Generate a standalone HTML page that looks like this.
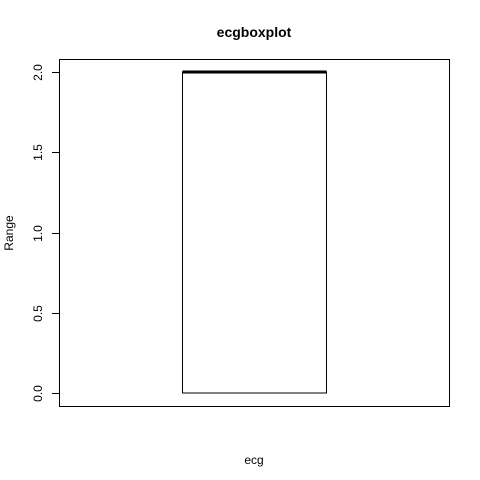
<!DOCTYPE html>
<html><head><meta charset="utf-8"><style>body{margin:0;background:#fff}svg{display:block;font-family:"Liberation Sans",Arial,sans-serif}</style></head>
<body>
<svg id="chart" width="480" height="480">
<text x="254" y="37" text-anchor="middle" font-size="14" font-weight="bold">ecgboxplot</text>
<rect x="59.5" y="59.5" width="390" height="347" fill="none" stroke="#000" stroke-width="1"/>
<text x="254" y="464" text-anchor="middle" font-size="12">ecg</text>
<text transform="translate(13,233) rotate(-90)" text-anchor="middle" font-size="12">Range</text>
<g id="yaxis"></g>
<g id="box"></g>
</svg>
<script>
const yTicks=[0,0.5,1,1.5,2];
const yTickLabels=["0.0","0.5","1.0","1.5","2.0"];
const stats=[0,0,2,2,2]; // min, q1, median, q3, max
const y=v=>393-v*(321/2);
const NS="http://www.w3.org/2000/svg";
function mk(t,a,p){const e=document.createElementNS(NS,t);for(const k in a)e.setAttribute(k,a[k]);p.appendChild(e);return e;}
const ya=document.getElementById('yaxis');
const al=mk('line',{x1:59.5,x2:59.5,y1:y(0),y2:y(2),stroke:'#000'},ya);


yTicks.forEach((v,i)=>{
 const yy=Math.round(y(v))+0.5;
 const t=mk('line',{x1:52,x2:59.5,y1:yy,y2:yy,stroke:'#000'},ya);
 
 
 const l=mk('text',{transform:`translate(42,${yy}) rotate(-90)`,'text-anchor':'middle','font-size':12},ya);
 l.textContent=yTickLabels[i];
 
 
});
const b=document.getElementById('box');
const r=mk('rect',{x:182.5,y:y(stats[3]),width:144,height:y(stats[1])-y(stats[3]),fill:'none',stroke:'#000'},b);


const m=mk('line',{x1:182.5,x2:326.5,y1:y(stats[2]),y2:y(stats[2]),stroke:'#000','stroke-width':3},b);


const c1=mk('line',{x1:218,x2:290,y1:y(stats[0]),y2:y(stats[0]),stroke:'#000'},b);


const c2=mk('line',{x1:218,x2:290,y1:y(stats[4]),y2:y(stats[4]),stroke:'#000'},b);


</script>
</body></html>
